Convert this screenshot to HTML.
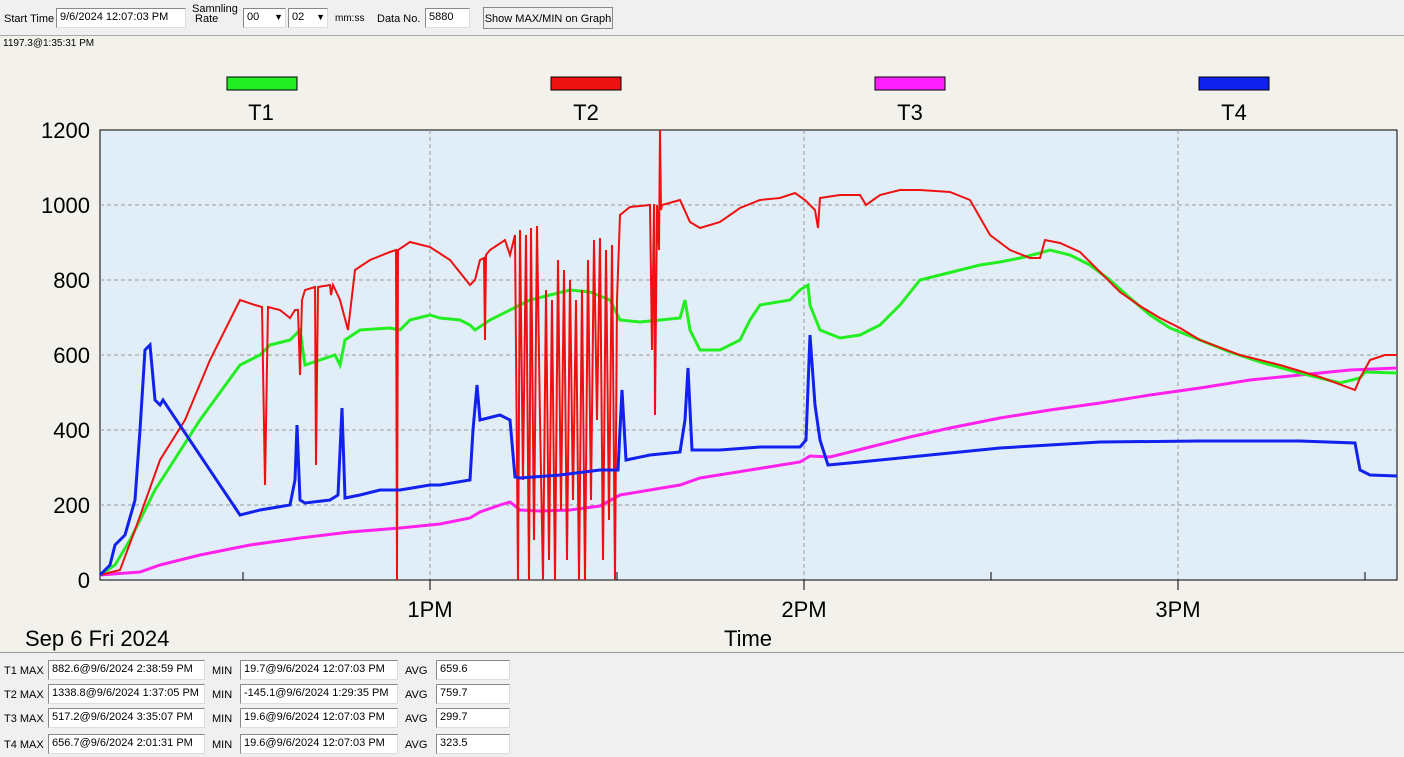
<!DOCTYPE html>
<html><head><meta charset="utf-8"><style>
body{margin:0;width:1404px;height:757px;overflow:hidden;background:#f0f0f0;font-family:"Liberation Sans",sans-serif;}
.abs{position:absolute;font-size:11px;color:#000;}
.box{position:absolute;background:#fff;border:1px solid #888;border-right-color:#ddd;border-bottom-color:#ddd;font-size:11px;line-height:17px;padding-left:3px;box-sizing:border-box;height:20px;}
</style></head><body>
<div style="position:absolute;left:0;top:0;width:1404px;height:35px;background:#f0f0f0;border-bottom:1px solid #aaa"></div>
<div class="abs" style="left:4px;top:13px">Start Time</div>
<div class="box" style="left:56px;top:8px;width:130px">9/6/2024 12:07:03 PM</div>
<div class="abs" style="left:192px;top:4px;line-height:10px">Samnling<br>&nbsp;Rate</div>
<div class="box" style="left:243px;top:8px;width:43px">00 <span style="position:absolute;right:2px;font-size:9px">▼</span></div>
<div class="box" style="left:288px;top:8px;width:40px">02 <span style="position:absolute;right:2px;font-size:9px">▼</span></div>
<div class="abs" style="left:335px;top:13px;font-size:10px">mm:ss</div>
<div class="abs" style="left:377px;top:13px">Data No.</div>
<div class="box" style="left:425px;top:8px;width:45px">5880</div>
<div style="position:absolute;left:483px;top:7px;width:130px;height:22px;border:1px solid #888;background:#f0f0f0;font-size:11px;line-height:22px;text-align:center;box-sizing:border-box">Show MAX/MIN on Graph</div>
<div style="position:absolute;left:0;top:36px;width:1404px;height:616px;background:#f3f1ec"></div>
<div class="abs" style="left:3px;top:38px;font-size:10px">1197.3@1:35:31 PM</div>
<svg style="position:absolute;left:0;top:0" width="1404" height="757">
<rect x="100" y="130" width="1297" height="450" fill="#e2eef7" stroke="#000" stroke-width="1"/>
<g stroke="#999" stroke-dasharray="4,3" stroke-width="1">
<line x1="100" x2="1397" y1="205" y2="205"/><line x1="100" x2="1397" y1="280" y2="280"/><line x1="100" x2="1397" y1="355" y2="355"/><line x1="100" x2="1397" y1="430" y2="430"/><line x1="100" x2="1397" y1="505" y2="505"/>
<line x1="430" x2="430" y1="130" y2="580"/><line x1="804" x2="804" y1="130" y2="580"/><line x1="1178" x2="1178" y1="130" y2="580"/>
</g>
<g stroke="#000"><line x1="100" x2="1397" y1="580" y2="580"/>
<line x1="430" x2="430" y1="580" y2="590"/><line x1="804" x2="804" y1="580" y2="590"/><line x1="1178" x2="1178" y1="580" y2="590"/>
<line x1="243" x2="243" y1="572" y2="580"/><line x1="617" x2="617" y1="572" y2="580"/><line x1="991" x2="991" y1="572" y2="580"/><line x1="1365" x2="1365" y1="572" y2="580"/>
</g>
<g font-family="Liberation Sans" font-size="22" text-anchor="end">
<text x="90" y="138">1200</text><text x="90" y="213">1000</text><text x="90" y="288">800</text><text x="90" y="363">600</text><text x="90" y="438">400</text><text x="90" y="513">200</text><text x="90" y="588">0</text>
</g>
<g font-family="Liberation Sans" font-size="22" text-anchor="middle">
<text x="430" y="617">1PM</text><text x="804" y="617">2PM</text><text x="1178" y="617">3PM</text>
<text x="748" y="646">Time</text>
<text x="261" y="120">T1</text><text x="586" y="120">T2</text><text x="910" y="120">T3</text><text x="1234" y="120">T4</text>
</g>
<text x="25" y="646" font-family="Liberation Sans" font-size="22">Sep 6 Fri 2024</text>
<g stroke="#000" stroke-width="1">
<rect x="227" y="77" width="70" height="13" fill="#22ee22"/><rect x="551" y="77" width="70" height="13" fill="#ee1111"/><rect x="875" y="77" width="70" height="13" fill="#ff22ff"/><rect x="1199" y="77" width="70" height="13" fill="#1122ee"/>
</g>
<polyline fill="none" stroke="#ff22ee" stroke-width="3" points="100,575 140,572 160,565 200,555 250,545 300,538 350,532 400,528 440,524 470,518 480,512 500,505 510,502 520,510 540,511 570,510 600,506 620,495 650,490 680,485 700,478 750,470 800,462 810,456 830,457 870,447 910,437 950,428 1000,418 1050,410 1100,403 1150,395 1200,388 1250,380 1300,375 1350,370 1397,368"/>
<polyline fill="none" stroke="#22ee22" stroke-width="3" points="100,575 115,565 130,540 155,490 200,420 240,365 250,360 260,355 270,345 290,340 300,330 305,365 320,360 335,355 340,365 345,340 360,330 390,328 400,330 410,320 430,315 440,318 460,320 470,325 475,330 490,320 510,310 530,300 550,295 570,290 590,292 610,300 620,320 640,322 660,320 680,318 685,300 690,330 700,350 720,350 740,340 750,320 760,305 790,300 800,290 808,285 810,305 820,330 840,338 860,335 880,325 900,305 920,280 940,275 960,270 980,265 1000,262 1020,258 1040,253 1050,250 1070,255 1090,265 1110,280 1130,298 1150,315 1170,328 1200,340 1230,352 1260,362 1300,373 1340,383 1360,378 1365,372 1397,373"/>
<polyline fill="none" stroke="#ee1111" stroke-width="2" points="100,575 120,570 135,530 160,460 185,420 210,360 240,300 255,305 262,307 265,485 268,307 280,310 290,318 295,310 298,310 300,375 302,300 305,290 315,287 316,465 318,287 330,285 331,295 333,285 340,300 348,330 355,270 370,260 390,252 396,250 397,580 398,250 410,242 430,247 450,260 470,285 475,280 480,260 484,258 485,340 486,255 490,250 505,240 510,255 515,235 518,580 520,230 523,480 526,235 529,580 531,228 534,540 537,226 540,420 543,580 546,290 549,560 552,300 555,580 558,260 561,510 564,270 567,560 570,280 573,500 576,300 579,580 582,290 585,580 588,260 591,500 594,240 597,420 600,238 603,560 606,250 609,520 612,245 615,580 617,300 620,215 630,207 650,205 652,350 654,204 655,415 657,205 659,250 660,130 661,210 662,205 680,200 690,222 700,228 720,222 740,208 760,200 780,198 795,193 805,200 815,210 818,228 820,198 840,195 860,195 866,205 880,195 900,190 920,190 950,192 970,200 990,235 1010,250 1030,258 1040,258 1045,240 1060,243 1080,252 1100,272 1120,292 1140,306 1160,318 1180,328 1200,340 1240,355 1280,365 1320,377 1355,390 1360,378 1370,360 1385,355 1397,355"/>
<polyline fill="none" stroke="#1122ee" stroke-width="3" points="100,575 110,565 115,545 125,535 135,500 140,430 145,350 150,345 155,400 160,405 163,400 240,515 260,510 290,505 295,480 297,425 300,500 305,503 330,500 338,495 342,408 345,498 360,495 380,490 400,490 430,485 440,485 470,480 473,430 477,385 480,420 500,415 510,420 515,477 520,478 560,475 600,470 618,470 622,390 626,460 650,455 680,452 685,420 688,368 692,450 720,450 760,447 800,447 806,440 810,335 815,405 820,440 828,465 860,462 900,458 950,453 1000,448 1050,445 1100,442 1200,441 1300,441 1355,443 1360,470 1370,475 1397,476"/>
</svg>
<div style="position:absolute;left:0;top:652px;width:1404px;height:1px;background:#999"></div>
<div class="abs" style="left:4px;top:665px">T1 MAX</div><div class="box" style="left:48px;top:660px;width:157px">882.6@9/6/2024 2:38:59 PM</div>
<div class="abs" style="left:212px;top:665px">MIN</div><div class="box" style="left:240px;top:660px;width:158px">19.7@9/6/2024 12:07:03 PM</div>
<div class="abs" style="left:405px;top:665px">AVG</div><div class="box" style="left:436px;top:660px;width:74px">659.6</div>
<div class="abs" style="left:4px;top:689px">T2 MAX</div><div class="box" style="left:48px;top:684px;width:157px">1338.8@9/6/2024 1:37:05 PM</div>
<div class="abs" style="left:212px;top:689px">MIN</div><div class="box" style="left:240px;top:684px;width:158px">-145.1@9/6/2024 1:29:35 PM</div>
<div class="abs" style="left:405px;top:689px">AVG</div><div class="box" style="left:436px;top:684px;width:74px">759.7</div>
<div class="abs" style="left:4px;top:713px">T3 MAX</div><div class="box" style="left:48px;top:708px;width:157px">517.2@9/6/2024 3:35:07 PM</div>
<div class="abs" style="left:212px;top:713px">MIN</div><div class="box" style="left:240px;top:708px;width:158px">19.6@9/6/2024 12:07:03 PM</div>
<div class="abs" style="left:405px;top:713px">AVG</div><div class="box" style="left:436px;top:708px;width:74px">299.7</div>
<div class="abs" style="left:4px;top:739px">T4 MAX</div><div class="box" style="left:48px;top:734px;width:157px">656.7@9/6/2024 2:01:31 PM</div>
<div class="abs" style="left:212px;top:739px">MIN</div><div class="box" style="left:240px;top:734px;width:158px">19.6@9/6/2024 12:07:03 PM</div>
<div class="abs" style="left:405px;top:739px">AVG</div><div class="box" style="left:436px;top:734px;width:74px">323.5</div>
</body></html>
